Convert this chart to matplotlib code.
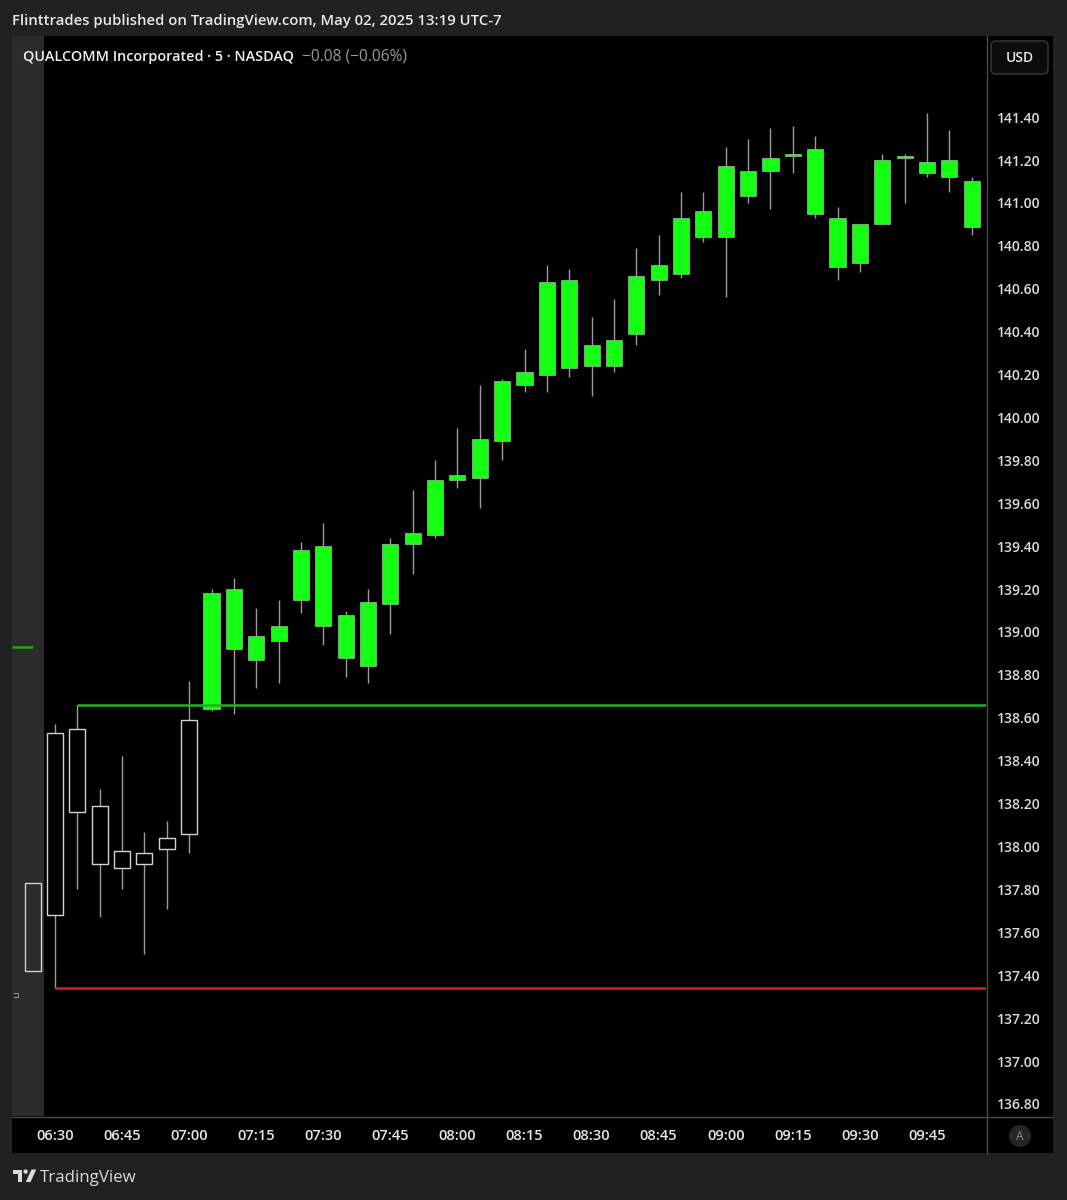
import numpy as np
import matplotlib
matplotlib.use("Agg")
import matplotlib.pyplot as plt
from matplotlib.patches import Rectangle, FancyBboxPatch, Circle, Polygon

# ---- 5-minute bars, QCOM ----
times = ["06:25", "06:30", "06:35", "06:40", "06:45", "06:50", "06:55", "07:00",
         "07:05", "07:10", "07:15", "07:20", "07:25", "07:30", "07:35", "07:40",
         "07:45", "07:50", "07:55", "08:00", "08:05", "08:10", "08:15", "08:20",
         "08:25", "08:30", "08:35", "08:40", "08:45", "08:50", "08:55", "09:00",
         "09:05", "09:10", "09:15", "09:20", "09:25", "09:30", "09:35", "09:40",
         "09:45", "09:50", "09:55"]
opens = [137.42, 137.68, 138.55, 138.19, 137.90, 137.97, 137.99, 138.06,
         138.64, 139.20, 138.98, 138.96, 139.15, 139.40, 139.08, 138.84,
         139.13, 139.41, 139.45, 139.71, 139.72, 139.89, 140.15, 140.20,
         140.64, 140.24, 140.24, 140.39, 140.64, 140.67, 140.84, 140.84,
         141.15, 141.15, 141.22, 141.25, 140.93, 140.72, 140.90, 141.21,
         141.19, 141.12, 141.10]
highs = [137.83, 138.57, 138.66, 138.27, 138.42, 138.07, 138.12, 138.77,
         139.20, 139.25, 139.11, 139.15, 139.42, 139.51, 139.10, 139.20,
         139.44, 139.66, 139.80, 139.95, 140.15, 140.18, 140.32, 140.71,
         140.69, 140.47, 140.55, 140.79, 140.85, 141.05, 141.05, 141.26,
         141.30, 141.35, 141.36, 141.31, 140.98, 140.90, 141.23, 141.23,
         141.42, 141.34, 141.12]
lows = [137.42, 137.34, 137.80, 137.67, 137.80, 137.50, 137.71, 137.97,
        138.63, 138.62, 138.74, 138.76, 139.09, 138.94, 138.79, 138.76,
        138.99, 139.27, 139.44, 139.67, 139.58, 139.80, 140.12, 140.12,
        140.19, 140.10, 140.21, 140.34, 140.57, 140.65, 140.82, 140.56,
        141.00, 140.97, 141.14, 140.93, 140.64, 140.68, 140.90, 141.00,
        141.12, 141.05, 140.85]
closes = [137.83, 138.53, 138.16, 137.92, 137.98, 137.92, 138.04, 138.59,
          139.18, 138.92, 138.87, 139.03, 139.38, 139.03, 138.88, 139.14,
          139.41, 139.46, 139.71, 139.73, 139.90, 140.17, 140.21, 140.63,
          140.23, 140.34, 140.36, 140.66, 140.71, 140.93, 140.96, 141.17,
          141.03, 141.21, 141.23, 140.95, 140.70, 140.90, 141.20, 141.22,
          141.14, 141.20, 140.89]
# bars painted by the highlighter (from 07:05 on)
highlighted = [False] * 8 + [True] * 35

price_ticks = [136.80, 137.00, 137.20, 137.40, 137.60, 137.80, 138.00, 138.20,
               138.40, 138.60, 138.80, 139.00, 139.20, 139.40, 139.60, 139.80,
               140.00, 140.20, 140.40, 140.60, 140.80, 141.00, 141.20, 141.40]
time_ticks = ["06:30", "06:45", "07:00", "07:15", "07:30", "07:45", "08:00",
              "08:15", "08:30", "08:45", "09:00", "09:15", "09:30", "09:45"]
marker_level = 138.93

# ---- styling ----
W, H = 1067, 1200
BG = "#212121"
STRIP = "#2b2b2b"
GREEN = "#14ff14"
WICK = "#9c9c9c"
HOLLOW = "#d2d2d2"
SEP = "#4a4a4a"
plt.rcParams["font.family"] = ["Open Sans", "DejaVu Sans"]

fig = plt.figure(figsize=(W / 100, H / 100), dpi=100, facecolor=BG)


def box(x0, y0, x1, y1):
    return [x0 / W, 1 - y1 / H, (x1 - x0) / W, (y1 - y0) / H]


# background layer in pixel units
bg = fig.add_axes([0, 0, 1, 1], zorder=0)
bg.set_xlim(0, W)
bg.set_ylim(H, 0)
bg.axis("off")
bg.add_patch(Rectangle((12, 36), 1053 - 12, 1153 - 36, fc="black", ec="none"))

# main price pane
ax = fig.add_axes(box(12, 36, 986, 1116), zorder=1)
ax.set_facecolor("black")
for s in ax.spines.values():
    s.set_visible(False)
x0, x1 = -0.923, 42.64
ax.set_xlim(x0, x1)
ax.set_ylim(136.744, 141.778)

# extended-hours shading
ax.axvspan(x0, 0.5, color=STRIP, lw=0, zorder=0)

xs = np.arange(len(times))
for i, o, h, l, c, hl in zip(xs, opens, highs, lows, closes, highlighted):
    top, bot = max(o, c), min(o, c)
    if h > top:
        ax.vlines(i, top, h, color=WICK, lw=1.0, zorder=2)
    if l < bot:
        ax.vlines(i, l, bot, color=WICK, lw=1.0, zorder=2)
    if hl:
        ax.bar(i, top - bot, bottom=bot, width=0.72, color=GREEN,
               edgecolor="#9fcf9f", linewidth=0.45, zorder=3)
    else:
        ax.bar(i, top - bot, bottom=bot, width=0.72, facecolor="none",
               edgecolor=HOLLOW, linewidth=1.0, zorder=3)

# session high / low levels
ax.hlines(highs[2], 2, x1, color="#22b022", lw=1.8, zorder=4)
ax.hlines(lows[1], 1, x1, color="#d91e1e", lw=1.8, zorder=4)
ax.hlines(marker_level, x0, 0.0, color="#1fa51f", lw=1.8, zorder=4)

# axes ticks
ax.yaxis.tick_right()
ax.set_yticks(price_ticks)
ax.set_yticklabels([f"{p:.2f}" for p in price_ticks], fontweight="semibold")
ax.tick_params(axis="y", length=0, pad=8.0, labelsize=10, labelcolor="#dcdcdc")
tick_pos = [times.index(t) for t in time_ticks]
ax.set_xticks(tick_pos)
ax.set_xticklabels(time_ticks, fontweight="semibold")
ax.tick_params(axis="x", length=0, pad=9.6, labelsize=10.5, labelcolor="#e6e6e6")

# overlay: separators and text
ov = fig.add_axes([0, 0, 1, 1], zorder=5)
ov.set_xlim(0, W)
ov.set_ylim(H, 0)
ov.axis("off")
ov.plot([986.5, 986.5], [36, 1153], color=SEP, lw=1)
ov.plot([12, 1053], [1116.5, 1116.5], color=SEP, lw=1)

ov.text(12, 20.5, "Flinttrades published on TradingView.com, May 02, 2025 13:19 UTC-7",
        ha="left", va="center", fontsize=10.7, color="#e8e8e8", fontweight="semibold")
ov.text(23, 56.5, "QUALCOMM Incorporated · 5 · NASDAQ", ha="left", va="center",
        fontsize=10.4, color="#f0f0f0", fontweight="semibold")
ov.text(302, 56.5, "\u22120.08 (\u22120.06%)", ha="left", va="center",
        fontsize=11.2, color="#9a9a9a")

# currency button
ov.add_patch(FancyBboxPatch((991, 41), 57, 33,
                            boxstyle="round,pad=0,rounding_size=5",
                            fc="#0c0c0c", ec="#3a3a3a", lw=1))
ov.text(1019.5, 58, "USD", ha="center", va="center", fontsize=10,
        color="#e6e6e6", fontweight="semibold")

# auto-scale button
ov.add_patch(Circle((1020, 1136), 11, fc="#262626", ec="none"))
ov.text(1020, 1137, "A", ha="center", va="center", fontsize=8.5, color="#8a8a8a")

# small marker glyph in the extended-hours strip
ov.text(15, 995, "\u2290", ha="center", va="center", fontsize=5.5,
        color="#b8b8b8", family="DejaVu Sans")

# logo
LOGO = "#d9d9d9"
ov.add_patch(Rectangle((13, 1169.5), 9, 4.2, fc=LOGO, ec="none"))
ov.add_patch(Rectangle((17.6, 1169.5), 4.4, 12.5, fc=LOGO, ec="none"))
ov.add_patch(Circle((25.6, 1171.6), 2.2, fc=LOGO, ec="none"))
ov.add_patch(Polygon([(25.8, 1182), (30.6, 1182), (36.2, 1169.5), (31.4, 1169.5)],
                     closed=True, fc=LOGO, ec="none"))
ov.text(40, 1178, "TradingView", ha="left", va="center", fontsize=12.2, color=LOGO)

fig.savefig("out.png", dpi=100, facecolor=BG)
